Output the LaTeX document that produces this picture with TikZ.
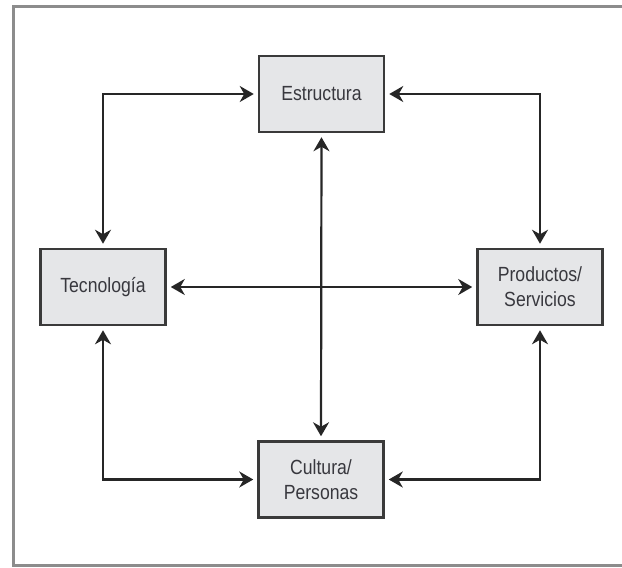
\documentclass[tikz,border=0pt]{standalone}
\usepackage{fontspec}
\setmainfont{Liberation Sans}[FakeStretch=0.86]
\usetikzlibrary{arrows.meta}
\definecolor{framegray}{HTML}{8C8C8C}
\definecolor{boxfill}{HTML}{E5E6E8}
\definecolor{boxline}{HTML}{3A3A3A}
\definecolor{linkcol}{HTML}{262626}
\definecolor{txtcol}{HTML}{38383E}
\begin{document}
\begin{tikzpicture}[x=1pt,y=-1pt,
  block/.style={draw=boxline, fill=boxfill, line width=2.5pt,
    minimum width=125pt, minimum height=76pt, inner sep=0pt,
    align=center, text=txtcol,
    font=\fontsize{20.5}{25}\selectfont},
  link/.style={draw=linkcol, line width=2.2pt,
    {Stealth[length=14pt,width=16pt,inset=4.5pt]}-{Stealth[length=14pt,width=16pt,inset=4.5pt]},
    shorten <=4pt, shorten >=4pt}]
  \useasboundingbox (0,0) rectangle (622,568);
  % outer frame, open on the right
  \draw[framegray, line width=3pt] (630,6) -| (13,565) -- (630,565);

  \node[block] (est) at (321.5,94)  {Estructura};
  \node[block] (tec) at (103,287)   {Tecnología};
  \node[block] (pro) at (540,287)   {Productos/\\Servicios};
  \node[block] (cul) at (321,479.5) {Cultura/\\Personas};

  \draw[link] (tec.north) |- (est.west);
  \draw[link] (est.east) -| (pro.north);
  \draw[link] (tec.south) |- (cul.west);
  \draw[link] (cul.east) -| (pro.south);
  \draw[link] (tec.east) -- (pro.west);
  \draw[link] (est.south) -- (cul.north);
\end{tikzpicture}
\end{document}
